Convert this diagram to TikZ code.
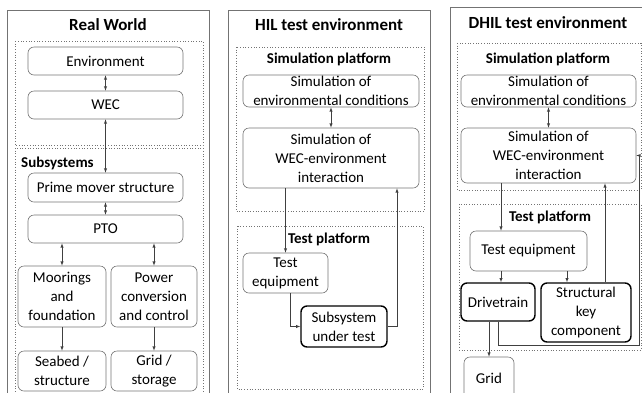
\documentclass[tikz,border=0pt]{standalone}
\usepackage{fontspec}
\setmainfont{Carlito}
\tikzset{
  blk/.style={draw=black!55,rounded corners=6pt,align=center,inner sep=0pt,
    line width=0.6pt,font=\fontsize{15}{19}\selectfont},
  keyblk/.style={blk,draw=black,line width=1.4pt},
  outerbox/.style={draw=black!55,line width=0.8pt},
  platform/.style={draw=black!55,dotted,line width=0.7pt},
  heading/.style={font=\fontsize{17}{20}\selectfont\bfseries,inner sep=0pt},
  subheading/.style={font=\fontsize{15}{18}\selectfont\bfseries,inner sep=0pt},
  link/.style={draw=black!75,line width=0.5pt}
}
\begin{document}
\begin{tikzpicture}[x=1pt,y=-1pt,>=latex]
  \useasboundingbox (0,0) rectangle (642,392);
  \clip (0,0) rectangle (642,392);
  % the three environments
  \draw[outerbox] (7,10) rectangle (209,410);
  \draw[outerbox] (228,10) rectangle (430,410);
  \draw[outerbox] (450,7) rectangle (660,410);
  \node[heading] (rwtitle) at (108,25) {Real World};
  \node[heading] (hiltitle) at (329,25) {HIL test environment};
  \node[heading] (dhiltitle) at (548,23) {DHIL test environment};

  % real world
  \draw[platform] (15,41) rectangle (203,145);
  \draw[platform] (15,148) rectangle (203,400);
  \node[subheading,anchor=west] (subsys) at (21,163) {Subsystems};
  \node[blk,minimum width=155,minimum height=28] (env) at (105.5,61) {Environment};
  \node[blk,minimum width=155,minimum height=28] (wec) at (105.5,105) {WEC};
  \node[blk,minimum width=155,minimum height=29] (pm) at (105.5,187.5) {Prime mover structure};
  \node[blk,minimum width=155,minimum height=28] (pto) at (105.5,229) {PTO};
  \node[blk,minimum width=88,minimum height=61] (moor) at (62,296.5) {Moorings\\and\\foundation};
  \node[blk,minimum width=86,minimum height=61] (power) at (154,296.5) {Power\\conversion\\and control};
  \node[blk,minimum width=88,minimum height=40] (seabed) at (62,371) {Seabed /\\structure};
  \node[blk,minimum width=86,minimum height=40] (gridst) at (154,371) {Grid /\\storage};
  \draw[link,<->] (env) -- (wec);
  \draw[link,<->] (wec) -- (pm);
  \draw[link,<->] (pm) -- (pto);
  \draw[link,<->] (moor.north |- pto.south) -- (moor.north);
  \draw[link,<->] (power.north |- pto.south) -- (power.north);
  \draw[link,->] (moor) -- (seabed);
  \draw[link,->] (power) -- (gridst);

  % HIL
  \draw[platform] (236,47) rectangle (424,211);
  \draw[platform] (237,226) rectangle (423,389);
  \node[subheading] (hsimtitle) at (329,59) {Simulation platform};
  \node[subheading] (htesttitle) at (329,239) {Test platform};
  \node[blk,minimum width=176,minimum height=32] (hsimenv) at (331,91) {Simulation of\\environmental conditions};
  \node[blk,minimum width=176,minimum height=60] (hsimwec) at (331,158) {Simulation of\\WEC-environment\\interaction};
  \node[blk,minimum width=85,minimum height=40] (htest) at (285.5,273) {Test\\equipment};
  \node[keyblk,minimum width=86,minimum height=41] (hsut) at (344,326.5) {Subsystem\\under test};
  \draw[link,<->] (hsimenv) -- (hsimwec);
  \draw[link,->] (htest.north |- hsimwec.south) -- (htest.north);
  \draw[link,->] ([xshift=5]htest.south) |- (hsut.west);
  \draw[link,->] (hsut.east) -| ([xshift=66]hsimwec.south);

  % DHIL
  \draw[platform] (457,43) rectangle (641,190);
  \draw[platform] (459,204) rectangle (641,350);
  \node[subheading] (dsimtitle) at (548,59) {Simulation platform};
  \node[subheading] (dtesttitle) at (550,217) {Test platform};
  \node[blk,minimum width=175,minimum height=32] (dsimenv) at (548.5,91) {Simulation of\\environmental conditions};
  \node[blk,minimum width=175,minimum height=55] (dsimwec) at (548.5,155.5) {Simulation of\\WEC-environment\\interaction};
  \node[blk,minimum width=117,minimum height=40] (dtest) at (528.5,251) {Test equipment};
  \node[keyblk,minimum width=74,minimum height=38] (ddrive) at (498,302) {Drivetrain};
  \node[keyblk,minimum width=90,minimum height=59] (dskc) at (586,312.5) {Structural\\key\\component};
  \node[blk,minimum width=50,minimum height=42] (dgrid) at (489,378) {Grid};
  \draw[link,<->] (dsimenv) -- (dsimwec);
  \draw[link,->] ([xshift=-27.5]dtest.north |- dsimwec.south) -- ([xshift=-27.5]dtest.north);
  \draw[link,->] ([xshift=-27.5]dtest.south) -- ([xshift=-27.5]dtest.south |- ddrive.north);
  \draw[link,->] ([xshift=38.5]dtest.south) -- ([xshift=38.5]dtest.south |- dskc.north);
  \draw[link,->] ([xshift=19]dskc.north) -- ([xshift=19]dskc.north |- dsimwec.south);
  \draw[link,->] (dgrid.north |- ddrive.south) -- (dgrid.north);
  \draw[link,->] (ddrive.south) -- ++(0,24) -| ([xshift=3]dsimwec.east) -- (dsimwec.east);
\end{tikzpicture}
\end{document}
